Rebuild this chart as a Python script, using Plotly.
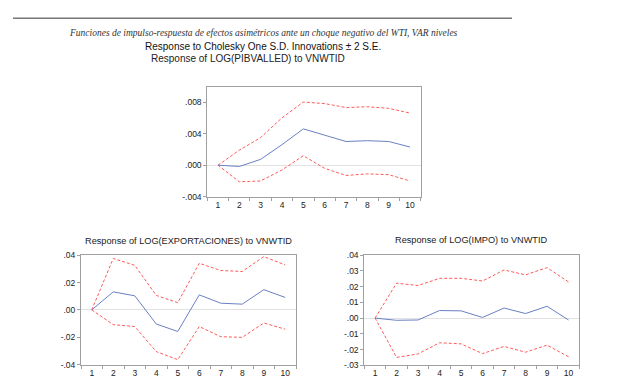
import plotly.graph_objects as go

periods = list(range(1, 11))

pib_resp = [0.0, -0.00016, 0.00074, 0.0026, 0.0046, 0.0038, 0.0030, 0.0031, 0.0030, 0.0023]
pib_up = [0.0, 0.0019, 0.0035, 0.0060, 0.0080, 0.0078, 0.0073, 0.0074, 0.0072, 0.0066]
pib_lo = [0.0, -0.0021, -0.0020, -0.0006, 0.0012, -0.0004, -0.0013, -0.0011, -0.0012, -0.0020]

exp_resp = [0.0, 0.0132, 0.0103, -0.0103, -0.0158, 0.0110, 0.0049, 0.0042, 0.0148, 0.0091]
exp_up = [0.0, 0.0376, 0.0326, 0.0106, 0.0053, 0.0341, 0.0288, 0.0281, 0.0390, 0.0329]
exp_lo = [0.0, -0.0108, -0.0122, -0.0305, -0.0364, -0.0122, -0.0196, -0.0201, -0.0096, -0.0141]

imp_resp = [0.0, -0.0014, -0.0012, 0.0048, 0.0046, 0.0004, 0.0064, 0.0029, 0.0075, -0.0012]
imp_up = [0.0, 0.0222, 0.0207, 0.0253, 0.0253, 0.0236, 0.0306, 0.0275, 0.0321, 0.0230]
imp_lo = [0.0, -0.0250, -0.0228, -0.0157, -0.0164, -0.0226, -0.0180, -0.0217, -0.0172, -0.0246]

pib_ticks = [-0.004, 0.0, 0.004, 0.008]
pib_ticktext = ["-.004", ".000", ".004", ".008"]
exp_ticks = [-0.04, -0.02, 0.0, 0.02, 0.04]
exp_ticktext = ["-.04", "-.02", ".00", ".02", ".04"]
imp_ticks = [-0.03, -0.02, -0.01, 0.0, 0.01, 0.02, 0.03, 0.04]
imp_ticktext = ["-.03", "-.02", "-.01", ".00", ".01", ".02", ".03", ".04"]

main_title = "Funciones de impulso-respuesta de efectos asimétricos ante un choque negativo del WTI, VAR niveles"
sup_title = "Response to Cholesky One S.D. Innovations ± 2 S.E."
titles = ["Response of LOG(PIBVALLED) to VNWTID",
          "Response of LOG(EXPORTACIONES) to VNWTID",
          "Response of LOG(IMPO) to VNWTID"]

BLUE = "#6a80c4"
RED = "#ff5a5a"
FONT = "Liberation Sans, Arial, sans-serif"

# page has an 8px body margin; figure is sized to fill the rest of the window
W, H, OFF = 632, 383, 8

def px(x):
    return (x - OFF) / W

def py(y):
    return 1 - (y - OFF) / H

fig = go.Figure()

panels = [
    ("x", "y", pib_resp, pib_up, pib_lo),
    ("x2", "y2", exp_resp, exp_up, exp_lo),
    ("x3", "y3", imp_resp, imp_up, imp_lo),
]
for xa, ya, r, u, l in panels:
    fig.add_trace(go.Scatter(x=periods, y=u, mode="lines", xaxis=xa, yaxis=ya,
                             line=dict(color=RED, width=1, dash="3px,2px"), showlegend=False))
    fig.add_trace(go.Scatter(x=periods, y=l, mode="lines", xaxis=xa, yaxis=ya,
                             line=dict(color=RED, width=1, dash="3px,2px"), showlegend=False))
    fig.add_trace(go.Scatter(x=periods, y=r, mode="lines", xaxis=xa, yaxis=ya,
                             line=dict(color=BLUE, width=1), showlegend=False))

def xax(x0, x1, anchor):
    return dict(domain=[px(x0), px(x1)], anchor=anchor, range=[0.5, 10.5],
                tickvals=periods, ticktext=[str(p) for p in periods],
                ticks="", showgrid=False, zeroline=False,
                showline=True, linecolor="#a0a0a0", linewidth=1, mirror=True,
                tickfont=dict(size=8.5, color="#222", family=FONT),
                minor=dict(tickvals=[p + 0.5 for p in range(0, 11)], ticks="outside",
                           ticklen=3, tickcolor="#a0a0a0", showgrid=False))

def yax(y0, y1, anchor, rng, tv, tt):
    return dict(domain=[py(y1), py(y0)], anchor=anchor, range=rng, tickvals=tv, ticktext=tt,
                ticks="outside", ticklen=3, tickcolor="#a0a0a0", showgrid=False,
                zeroline=True, zerolinecolor="#e2e2e2", zerolinewidth=1,
                showline=True, linecolor="#a0a0a0", linewidth=1, mirror=True,
                tickfont=dict(size=8.5, color="#222", family=FONT))

fig.update_layout(
    width=W, height=H,
    margin=dict(l=0, r=0, t=0, b=0),
    paper_bgcolor="white", plot_bgcolor="white",
    xaxis=xax(207.3, 420.7, "y"),
    yaxis=yax(84, 196.7, "x", [-0.004, 0.0099], pib_ticks, pib_ticktext),
    xaxis2=xax(81, 296, "y2"),
    yaxis2=yax(256.7, 369, "x2", [-0.04, 0.04], exp_ticks, exp_ticktext),
    xaxis3=xax(364.3, 579.3, "y3"),
    yaxis3=yax(256.7, 369.7, "x3", [-0.03, 0.04], imp_ticks, imp_ticktext),
)

fig.add_shape(type="line", xref="paper", yref="paper",
              x0=px(13), x1=px(512), y0=py(13.5), y1=py(13.5),
              line=dict(color="#777", width=1.5))

def ann(text, x, y, size, family, color="#222"):
    fig.add_annotation(text=text, x=px(x), y=py(y), xref="paper", yref="paper",
                       showarrow=False, xanchor="center", yanchor="middle",
                       font=dict(size=size, family=family, color=color))

ann("<i>" + main_title + "</i>", 263, 29, 9.5, "Liberation Serif, Times New Roman, serif", "#333")
ann(sup_title, 263, 42, 10, FONT, "#111")
ann(titles[0], 248.5, 54.5, 10, FONT)
ann(titles[1], 188, 241.7, 9.2, FONT)
ann(titles[2], 471, 241.5, 9.2, FONT)

fig.write_html("out.html")
